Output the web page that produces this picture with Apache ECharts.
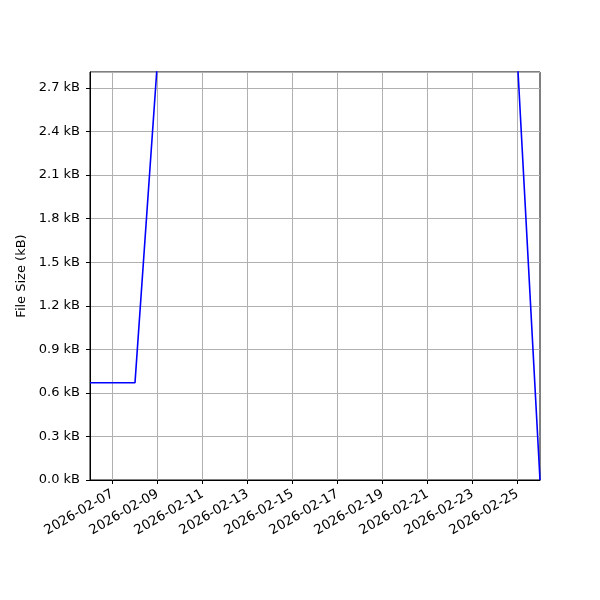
<!DOCTYPE html>
<html>
<head>
<meta charset="utf-8">
<script src="https://cdn.jsdelivr.net/npm/echarts@6/dist/echarts.min.js"></script>
<style>
  html, body { margin: 0; padding: 0; background: #fff; }
  #chart { width: 600px; height: 600px; }
</style>
</head>
<body>
<div id="chart"></div>
<script>
// dates and file sizes (kB); middle points run above the top edge
const dates = ['2026-02-06', '2026-02-07', '2026-02-08', '2026-02-09', '2026-02-25', '2026-02-26'];
const sizesKB = [0.67, 0.67, 0.67, 2.89, 2.88, 0.0];
const tickDates = ['2026-02-07', '2026-02-09', '2026-02-11', '2026-02-13', '2026-02-15',
  '2026-02-17', '2026-02-19', '2026-02-21', '2026-02-23', '2026-02-25'];
const xStart = '2026-02-06';
const xEnd = '2026-02-26';
const yMax = 2.81;

// x as day number counted from 2026-02-01
const DAY = 86400000;
const base = Date.UTC(2026, 1, 1);
const dayNum = s => (Date.parse(s + 'T00:00:00Z') - base) / DAY;
const dayLabel = d => new Date(base + d * DAY).toISOString().slice(0, 10);
const tickDays = tickDates.map(dayNum);

const chart = echarts.init(document.getElementById('chart'));

const font = 'DejaVu Sans';
chart.setOption({
  animation: false,
  textStyle: { fontFamily: font },
  grid: {
    left: 90, right: 60, top: 72, bottom: 120,
    show: true, borderColor: '#000', borderWidth: 1
  },
  xAxis: {
    type: 'value',
    min: dayNum(xStart),
    max: dayNum(xEnd),
    axisLine: { show: true, lineStyle: { color: '#000', width: 1 } },
    axisTick: {
      show: true, inside: false, length: 4, lineStyle: { color: '#000' },
      customValues: tickDays
    },
    axisLabel: {
      rotate: 30, fontSize: 13.3, color: '#000', margin: 13,
      customValues: tickDays,
      formatter: v => dayLabel(v)
    },
    splitLine: { show: true, lineStyle: { color: '#b0b0b0', width: 1 } }
  },
  yAxis: {
    type: 'value',
    min: 0,
    max: yMax,
    interval: 0.3,
    name: 'File Size (kB)',
    nameLocation: 'middle',
    nameGap: 56,
    nameTextStyle: { fontSize: 13, color: '#000' },
    axisLine: { show: true, lineStyle: { color: '#000', width: 1 } },
    axisTick: { show: true, inside: false, length: 4, lineStyle: { color: '#000' } },
    axisLabel: {
      fontSize: 13, color: '#000', margin: 10,
      showMaxLabel: false,
      formatter: v => v.toFixed(1) + ' kB'
    },
    splitLine: { show: true, lineStyle: { color: '#b0b0b0', width: 1 } }
  },
  series: [{
    type: 'line',
    data: dates.map((d, i) => [dayNum(d), sizesKB[i]]),
    showSymbol: false,
    clip: true,
    lineStyle: { color: '#0000ff', width: 1.6 },
    itemStyle: { color: '#0000ff' }
  }]
});
</script>
</body>
</html>
